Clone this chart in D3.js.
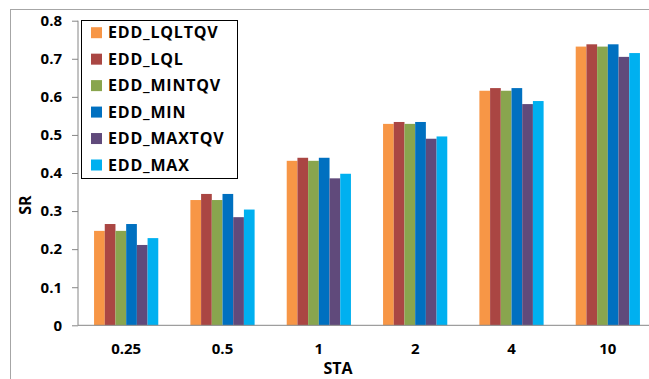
<!DOCTYPE html>
<html>
<head>
<meta charset="utf-8">
<script src="https://cdn.jsdelivr.net/npm/d3@7"></script>
<style>
  body { margin: 0; background: #fff; }
  text { font-family: "Open Sans", "Liberation Sans", sans-serif; font-weight: bold; fill: #000; }
</style>
</head>
<body>
<script>
var categories = ['0.25', '0.5', '1', '2', '4', '10']
var seriesNames = ['EDD_LQLTQV', 'EDD_LQL', 'EDD_MINTQV', 'EDD_MIN', 'EDD_MAXTQV', 'EDD_MAX']
var colors = ['#F79646', '#AA4643', '#89A54E', '#0070C0', '#604A7B', '#00B0F0']
var yTicks = [0, 0.1, 0.2, 0.3, 0.4, 0.5, 0.6, 0.7, 0.8]

// one array per series, values per STA category
var lqltqv = [0.248, 0.329, 0.432, 0.529, 0.616, 0.732]
var lql    = [0.266, 0.345, 0.440, 0.534, 0.623, 0.738]
var mintqv = [0.248, 0.329, 0.432, 0.529, 0.616, 0.732]
var min    = [0.266, 0.345, 0.440, 0.534, 0.623, 0.738]
var maxtqv = [0.211, 0.284, 0.386, 0.490, 0.581, 0.705]
var max    = [0.229, 0.304, 0.398, 0.496, 0.589, 0.715]
var values = [lqltqv, lql, mintqv, min, maxtqv, max]

var w = 649
var h = 379

var svg = d3.select('body')
            .append('svg')
            .attr('width', w)
            .attr('height', h)

// outer chart border (cropped in the picture)
svg.append('rect')
  .attr('x', 10.5)
  .attr('y', 9.5)
  .attr('width', 700)
  .attr('height', 400)
  .attr('fill', 'none')
  .attr('stroke', '#A6A6A6')

var x0 = d3.scaleBand()
          .domain(categories)
          .range([78, 656])
          .paddingInner(1 / 3)
          .paddingOuter(1 / 6)

var x1 = d3.scaleBand()
          .domain(seriesNames)
          .range([0, x0.bandwidth()])

var y = d3.scaleLinear()
          .domain([0, 0.8])
          .range([325.3, 20.7])

// BARS
var groups = svg.selectAll('.group')
  .data(categories)
  .enter()
    .append('g')
    .attr('transform', function (d) { return 'translate(' + x0(d) + ',0)' })

groups.selectAll('rect')
  .data(function (d, i) {
    return seriesNames.map(function (s, j) { return { s: s, v: values[j][i], c: colors[j] } })
  })
  .enter()
    .append('rect')
    .attr('x', function (d) { return x1(d.s) })
    .attr('y', function (d) { return y(d.v) })
    .attr('width', x1.bandwidth())
    .attr('height', function (d) { return y(0) - y(d.v) })
    .attr('fill', function (d) { return d.c })

// Y AXIS
var yAxis = svg.append('g')
  .attr('transform', 'translate(78,0)')
  .call(d3.axisLeft(y).tickValues(yTicks).tickSize(6).tickPadding(10).tickFormat(function (d) { return d === 0 ? '0' : d3.format('.1f')(d) }))
yAxis.selectAll('line, path').attr('stroke', '#868686')
yAxis.select('.domain').attr('d', 'M0,' + y(0.8) + 'V' + y(0))
yAxis.selectAll('text').style('font-size', '15px').attr('fill', '#000')

// X AXIS
var xAxis = svg.append('g')
  .attr('transform', 'translate(0,' + y(0) + ')')
  .call(d3.axisBottom(x0).tickSize(0).tickPadding(18))
xAxis.select('.domain').attr('stroke', '#868686').attr('d', 'M78,0H649')
xAxis.selectAll('text').style('font-size', '15px').attr('fill', '#000')

// AXIS TITLES
svg.append('text')
  .attr('x', 338)
  .attr('y', 374)
  .attr('text-anchor', 'middle')
  .style('font-size', '16px')
  .text('STA')

svg.append('text')
  .attr('transform', 'translate(31,205) rotate(-90)')
  .attr('text-anchor', 'middle')
  .style('font-size', '16px')
  .text('SR')

// LEGEND
var legend = svg.append('g')
legend.append('rect')
  .attr('x', 81.5)
  .attr('y', 20.5)
  .attr('width', 156)
  .attr('height', 158)
  .attr('fill', '#fff')
  .attr('stroke', '#000')

var item = legend.selectAll('.item')
  .data(seriesNames)
  .enter()
    .append('g')
    .attr('transform', function (d, i) { return 'translate(91,' + (32.7 + i * 26.46) + ')' })

item.append('rect')
  .attr('x', 0)
  .attr('y', -5.5)
  .attr('width', 11)
  .attr('height', 11)
  .attr('fill', function (d, i) { return colors[i] })

item.append('text')
  .attr('x', 17)
  .attr('dy', '0.36em')
  .style('font-size', '16px')
  .style('letter-spacing', '0.8px')
  .text(function (d) { return d })
</script>
</body>
</html>
